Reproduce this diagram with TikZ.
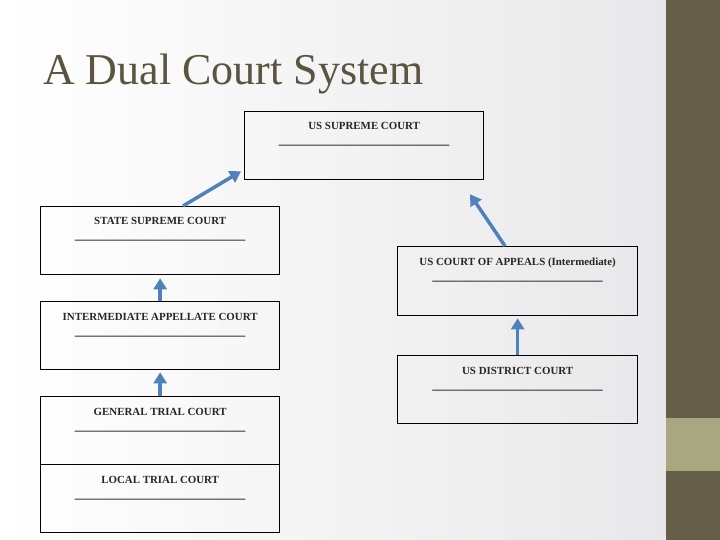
\documentclass[tikz,border=0pt]{standalone}
\usepackage{fontspec}
\setmainfont{Liberation Serif}
\usetikzlibrary{arrows.meta,calc}
\definecolor{sidedark}{RGB}{101,94,72}
\definecolor{sidelight}{RGB}{169,167,127}
\definecolor{titlecol}{RGB}{90,84,64}
\definecolor{arrowblue}{RGB}{79,129,189}
\definecolor{bggray}{RGB}{232,232,234}
\newcommand{\uline}{\_\_\_\_\_\_\_\_\_\_\_\_\_\_\_\_\_\_\_\_\_\_\_\_\_\_\_\_\_\_\_}
\tikzset{
  courtbox/.style={draw=black, line width=1.3pt, minimum width=239pt, minimum height=68pt, inner sep=0pt, anchor=north west},
  courtname/.style={anchor=base, font=\fontsize{10.9}{12}\selectfont\bfseries, text=black!85, inner sep=0pt},
  courtline/.style={anchor=base, font=\fontsize{11}{12}\selectfont\bfseries, text=black, inner sep=0pt},
  uparrow/.style={draw=arrowblue, line width=3.5pt, -{Triangle[length=11pt,width=13pt]}}
}
\begin{document}
\begin{tikzpicture}[x=1pt,y=-1pt]
\useasboundingbox (0,0) rectangle (720,540);
% background
\shade[left color=white, right color=bggray] (0,0) rectangle (666,540);
\fill[sidedark] (666,0) rectangle (720,540);
\fill[sidelight] (666,418) rectangle (720,471);
% title
\node[anchor=base west, inner sep=0pt, text=titlecol, font=\fontsize{44}{48}\selectfont] (title) at (43,85) {A Dual Court System};
% boxes
\node[courtbox] (ussc) at (244,111) {};
\node[courtbox] (ssc) at (40,206) {};
\node[courtbox, minimum width=240pt, minimum height=69pt] (usca) at (397,246) {};
\node[courtbox] (iac) at (40,301) {};
\node[courtbox, minimum width=240pt] (usdc) at (397,355) {};
\node[courtbox] (gtc) at (40,396) {};
\node[courtbox] (ltc) at (40,464) {};
% labels
\foreach \b/\t in {ussc/US SUPREME COURT, ssc/STATE SUPREME COURT, usca/US COURT OF APPEALS (Intermediate), iac/INTERMEDIATE APPELLATE COURT, usdc/US DISTRICT COURT, gtc/GENERAL TRIAL COURT, ltc/LOCAL TRIAL COURT}{
  \node[courtname] (\b-name) at ($(\b.north)+(0,19)$) {\t};
  \node[courtline] (\b-line) at ($(\b.north)+(0,34)$) {\uline};
}
% arrows
\coordinate (a1s) at ($(ssc.north west)+(143,0)$);
\coordinate (a1e) at ($(ussc.south west)+(-3,-9)$);
\draw[uparrow] (a1s) -- (a1e);
\coordinate (a2s) at ($(usca.north west)+(108,0)$);
\coordinate (a2e) at ($(ussc.south west)+(226,14)$);
\draw[uparrow] (a2s) -- (a2e);
\draw[uparrow] (iac.north) -- ($(ssc.south)+(0,3)$);
\draw[uparrow] (gtc.north) -- ($(iac.south)+(0,2)$);
\draw[uparrow] (usdc.north) -- ($(usca.south)+(0,2)$);
\end{tikzpicture}
\end{document}
